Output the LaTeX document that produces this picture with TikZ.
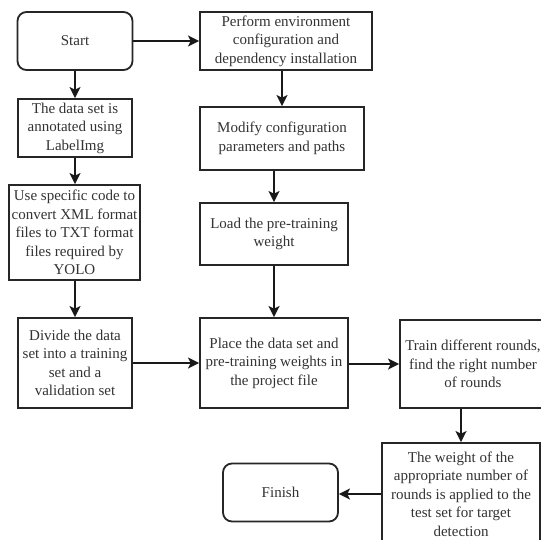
\documentclass[tikz,border=0pt]{standalone}
\usepackage{fontspec}
\setmainfont{Liberation Serif}
\usetikzlibrary{arrows.meta}
\begin{document}
\begin{tikzpicture}[x=1pt,y=-1pt,
  box/.style={draw=black!85, line width=1.8pt, align=center, inner sep=1pt,
    font=\fontsize{15}{18.5}\selectfont, text=black!80},
  term/.style={box, rounded corners=9pt},
  arr/.style={draw=black!90, line width=1.8pt, -{Stealth[length=11pt,width=11pt,inset=2.5pt]}}]
\useasboundingbox (0,0) rectangle (540,540);
\fill[white] (0,0) rectangle (540,540);
\node[term, minimum width=115pt, minimum height=58pt] (start) at (75,41) {Start};
\node[box, minimum width=172pt, minimum height=58pt] (perform) at (286,41) {Perform environment\\configuration and\\dependency installation};
\node[box, minimum width=114pt, minimum height=58pt] (data) at (75,128) {The data set is\\annotated using\\LabelImg};
\node[box, minimum width=164pt, minimum height=63pt] (modify) at (282,138.5) {Modify configuration\\parameters and paths};
\node[box, minimum width=131pt, minimum height=95pt] (code) at (74.5,232.5) {Use specific code to\\convert XML format\\files to TXT format\\files required by\\YOLO};
\node[box, minimum width=148pt, minimum height=62pt] (load) at (274,234) {Load the pre-training\\weight};
\node[box, minimum width=114pt, minimum height=90pt] (divide) at (75,363) {Divide the data\\set into a training\\set and a\\validation set};
\node[box, minimum width=148pt, minimum height=90pt] (place) at (274,363) {Place the data set and\\pre-training weights in\\the project file};
\node[box, minimum width=146pt, minimum height=88pt] (train) at (473,364) {Train different rounds,\\find the right number\\of rounds};
\node[box, minimum width=158pt, minimum height=102pt] (weight) at (461,494) {The weight of the\\appropriate number of\\rounds is applied to the\\test set for target\\detection};
\node[term, minimum width=115pt, minimum height=58pt] (finish) at (280.5,492.5) {Finish};
\draw[arr] (start) -- (perform);
\draw[arr] (start.south -| data.north) -- (data.north);
\draw[arr] (data) -- (data |- code.north);
\draw[arr] (code.south -| divide.north) -- (divide);
\draw[arr] (divide) -- (place);
\draw[arr] (modify.north |- perform.south) -- (modify.north);
\draw[arr] (load.north |- modify.south) -- (load.north);
\draw[arr] (load) -- (place);
\draw[arr] (place.east |- train.west) -- (train.west);
\draw[arr] (weight.north |- train.south) -- (weight.north);
\draw[arr] (weight.west) -- (finish.east |- weight.west);
\end{tikzpicture}
\end{document}
